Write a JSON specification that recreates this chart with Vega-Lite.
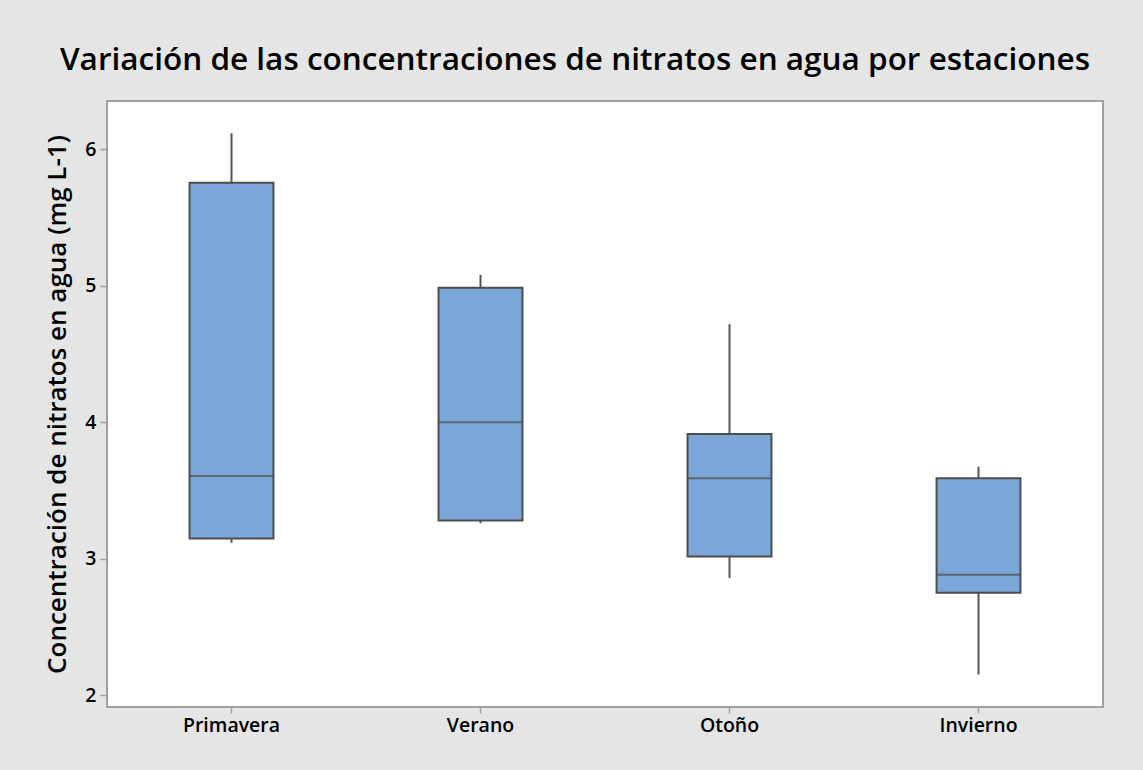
{
  "$schema": "https://vega.github.io/schema/vega-lite/v6.json",
  "width": 996,
  "height": 606,
  "autosize": {"type": "none"},
  "padding": {"left": 107, "top": 101, "right": 40, "bottom": 63},
  "background": "#e5e5e5",
  "config": {
    "view": {"fill": "white", "stroke": "#a0a0a0", "strokeWidth": 2},
    "font": "Open Sans"
  },
  "title": {
    "text": "Variación de las concentraciones de nitratos en agua por estaciones",
    "fontSize": 31.5,
    "fontWeight": 600,
    "color": "#000000",
    "anchor": "middle",
    "dx": -30,
    "offset": 25
  },
  "data": {
    "values": [
      {"estacion": "Primavera", "lower": 3.117, "q1": 3.149, "median": 3.607, "q3": 5.755, "upper": 6.117},
      {"estacion": "Verano", "lower": 3.26, "q1": 3.28, "median": 4.0, "q3": 4.985, "upper": 5.08},
      {"estacion": "Otoño", "lower": 2.86, "q1": 3.017, "median": 3.59, "q3": 3.914, "upper": 4.718},
      {"estacion": "Invierno", "lower": 2.152, "q1": 2.751, "median": 2.883, "q3": 3.59, "upper": 3.675}
    ]
  },
  "encoding": {
    "x": {
      "field": "estacion",
      "type": "nominal",
      "sort": ["Primavera", "Verano", "Otoño", "Invierno"],
      "scale": {"paddingInner": 0, "paddingOuter": 0},
      "axis": {
        "title": null,
        "labelAngle": 0,
        "labelFontSize": 19.5,
        "labelFontWeight": 600,
        "labelColor": "#000000",
        "labelPadding": 3,
        "tickSize": 6,
        "tickColor": "#a0a0a0",
        "tickWidth": 1.5,
        "domain": false
      }
    }
  },
  "layer": [
    {
      "mark": {"type": "rule", "color": "#555555", "strokeWidth": 2},
      "encoding": {
        "y": {
          "field": "lower",
          "type": "quantitative",
          "scale": {"domain": [1.914, 6.354], "nice": false, "zero": false},
          "axis": {
            "title": "Concentración de nitratos en agua (mg L-1)",
            "titleFontSize": 26,
            "titleFontWeight": 600,
            "titleColor": "#000000",
            "titlePadding": 14,
            "values": [2, 3, 4, 5, 6],
            "format": "d",
            "labelFontSize": 19.5,
            "labelFontWeight": 600,
            "labelColor": "#000000",
            "labelPadding": 4,
            "tickSize": 7,
            "tickColor": "#a0a0a0",
            "tickWidth": 1.5,
            "grid": false,
            "domain": false
          }
        },
        "y2": {"field": "upper"}
      }
    },
    {
      "mark": {"type": "bar", "width": {"band": 0.337}, "fill": "#7ba7d8", "stroke": "#4d4d4d", "strokeWidth": 2},
      "encoding": {
        "y": {"field": "q1", "type": "quantitative"},
        "y2": {"field": "q3"}
      }
    },
    {
      "mark": {"type": "tick", "color": "#4d4d4d", "thickness": 2, "size": 84},
      "encoding": {
        "y": {"field": "median", "type": "quantitative"}
      }
    }
  ]
}
